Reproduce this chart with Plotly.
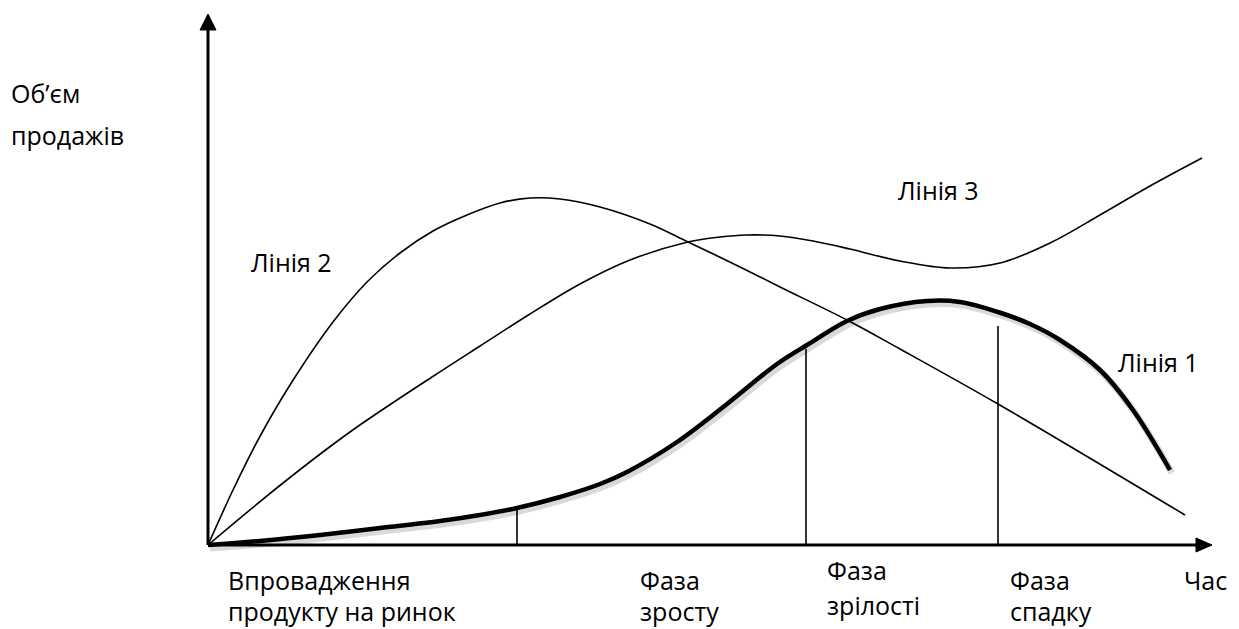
import plotly.graph_objects as go

# Data in chart units: x = time, y = sales volume (origin at axes crossing)
line1_x = [0, 52, 112, 172, 232, 272, 309, 352, 392, 419, 469, 519, 569, 599, 639, 672, 719, 752, 790, 822, 852, 892, 925, 962]
line1_y = [0, 4, 10, 17, 24, 30, 37, 48, 61, 73, 103, 141, 181, 200, 224, 236, 244, 243, 233, 221, 205, 175, 135, 75]

line2_x = [0, 25, 50, 82, 125, 159, 192, 225, 259, 292, 322, 352, 392, 442, 480, 532, 572, 639, 692, 790, 977]
line2_y = [0, 55, 105, 160, 223, 263, 292, 314, 330, 342, 347, 346, 338, 321, 303, 278, 258, 225, 196, 141, 30]

line3_x = [0, 75, 142, 224, 272, 322, 372, 422, 480, 512, 539, 572, 605, 642, 692, 742, 792, 842, 892, 942, 994]
line3_y = [0, 62, 113, 168, 199, 231, 261, 285, 303, 308, 310, 309, 304, 296, 284, 277, 282, 302, 330, 359, 387]

phase_x = [309, 598, 790]
phase_top = [37, 196, 219]

labels = [
    ("Об’єм", -198, 452, "left"),
    ("продажів", -198, 410, "left"),
    ("Лінія 2", 42, 283, "left"),
    ("Лінія 3", 689, 355, "left"),
    ("Лінія 1", 909, 183, "left"),
    ("Впровадження", 19, -35, "left"),
    ("продукту на ринок", 19, -66, "left"),
    ("Фаза", 431, -35, "left"),
    ("зросту", 431, -66, "left"),
    ("Фаза", 618, -25, "left"),
    ("зрілості", 618, -60, "left"),
    ("Фаза", 801, -35, "left"),
    ("спадку", 801, -66, "left"),
    ("Час", 1020, -35, "right"),
]

# page has an 8px body margin: figure is sized/ranged so the drawing lands where the reference has it
X_RANGE = [-200, 1031]
Y_RANGE = [-84, 537]
Y_TOP = 531
X_END = 1004

fig = go.Figure()

# soft shadow of line 1 (same data, slightly offset axes)
fig.add_trace(go.Scatter(x=line1_x, y=line1_y, mode="lines", xaxis="x2", yaxis="y2",
                         line=dict(color="rgba(0,0,0,0.15)", width=7, shape="spline", smoothing=1),
                         hoverinfo="skip", showlegend=False))

fig.add_trace(go.Scatter(x=line2_x, y=line2_y, mode="lines",
                         line=dict(color="black", width=1.6, shape="spline", smoothing=1),
                         showlegend=False))
fig.add_trace(go.Scatter(x=line3_x, y=line3_y, mode="lines",
                         line=dict(color="black", width=1.6, shape="spline", smoothing=1),
                         showlegend=False))
fig.add_trace(go.Scatter(x=line1_x, y=line1_y, mode="lines",
                         line=dict(color="black", width=4.5, shape="spline", smoothing=1),
                         showlegend=False))

shapes = []
# axes
shapes.append(dict(type="line", x0=0, y0=0, x1=0, y1=Y_TOP - 10, line=dict(color="black", width=3)))
shapes.append(dict(type="line", x0=0, y0=0, x1=X_END - 10, y1=0, line=dict(color="black", width=3)))
# arrow heads
shapes.append(dict(type="path", path=f"M -8,{Y_TOP-16} L 8,{Y_TOP-16} L 0,{Y_TOP} Z",
                   fillcolor="black", line=dict(color="black", width=1)))
shapes.append(dict(type="path", path=f"M {X_END-16},-7 L {X_END-16},7 L {X_END},0 Z",
                   fillcolor="black", line=dict(color="black", width=1)))
# phase boundaries
for px, pt in zip(phase_x, phase_top):
    shapes.append(dict(type="line", x0=px, y0=0, x1=px, y1=pt, line=dict(color="black", width=1.6)))

annotations = []
for text, ax_, ay_, anchor in labels:
    annotations.append(dict(x=ax_, y=ay_, text=text, showarrow=False, xanchor=anchor, yanchor="middle",
                            borderpad=0,
                            font=dict(family="Open Sans", size=25, color="black")))

fig.update_layout(
    width=1231, height=621,
    margin=dict(l=0, r=0, t=0, b=0),
    paper_bgcolor="white", plot_bgcolor="white",
    xaxis=dict(range=X_RANGE, visible=False, fixedrange=True),
    yaxis=dict(range=Y_RANGE, visible=False, fixedrange=True),
    xaxis2=dict(range=[X_RANGE[0] - 2, X_RANGE[1] - 2], visible=False, overlaying="x"),
    yaxis2=dict(range=[Y_RANGE[0] + 3, Y_RANGE[1] + 3], visible=False, overlaying="y"),
    shapes=shapes,
    annotations=annotations,
)

fig.write_html("out.html")
